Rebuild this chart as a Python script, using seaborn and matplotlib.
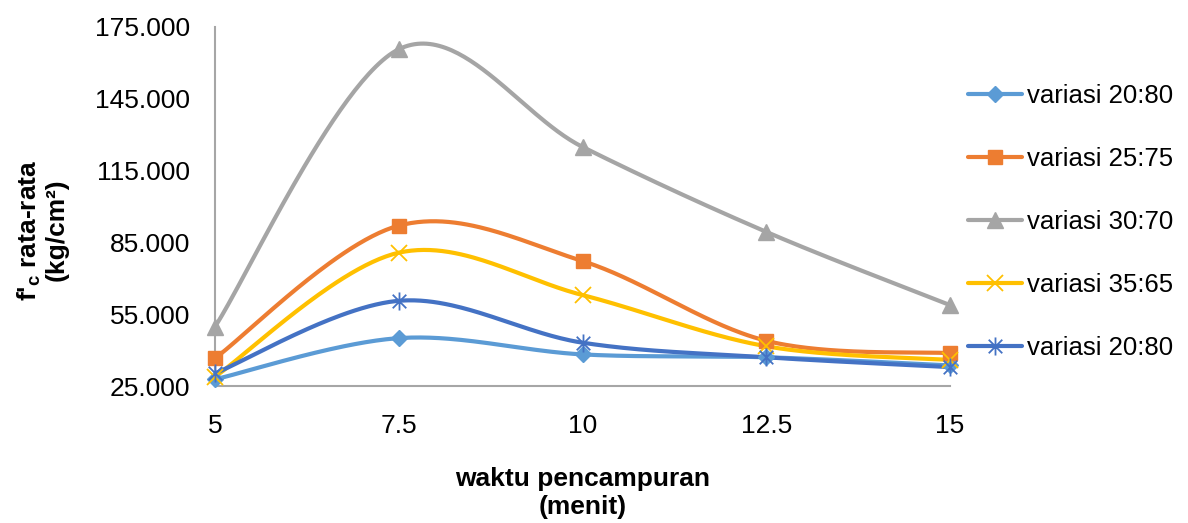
import matplotlib
matplotlib.use("Agg")
import matplotlib.pyplot as plt
import numpy as np
import seaborn as sns
from matplotlib.lines import Line2D
from matplotlib.path import Path

# data
waktu = [5, 7.5, 10, 12.5, 15]
waktu_labels = ["5", "7.5", "10", "12.5", "15"]
y_ticks = [25, 55, 85, 115, 145, 175]
y_tick_labels = ["25.000", "55.000", "85.000", "115.000", "145.000", "175.000"]

seri_names = ["variasi 20:80", "variasi 25:75", "variasi 30:70", "variasi 35:65", "variasi 20:80"]
v_20_80_a = [27.8, 45.0, 38.2, 37.0, 33.6]
v_25_75 = [36.6, 92.0, 77.2, 43.9, 38.7]
v_30_70 = [49.8, 165.7, 124.9, 89.4, 58.8]
v_35_65 = [28.9, 80.7, 63.0, 41.6, 35.9]
v_20_80_b = [30.3, 60.6, 43.1, 37.0, 32.9]
seri_values = [v_20_80_a, v_25_75, v_30_70, v_35_65, v_20_80_b]

colors = ["#5B9BD5", "#ED7D31", "#A5A5A5", "#FFC000", "#4472C4"]

# excel-like "star" marker: an x plus a vertical bar
star = Path(
    [(0, -1), (0, 1), (-0.75, -0.75), (0.75, 0.75), (-0.75, 0.75), (0.75, -0.75)],
    [Path.MOVETO, Path.LINETO, Path.MOVETO, Path.LINETO, Path.MOVETO, Path.LINETO],
)
marker_styles = [
    dict(marker="D", ms=8, mfc=colors[0], mec=colors[0], mew=1),
    dict(marker="s", ms=10, mfc=colors[1], mec=colors[1], mew=1),
    dict(marker="^", ms=11, mfc=colors[2], mec=colors[2], mew=1),
    dict(marker="x", ms=11, mfc="none", mec=colors[3], mew=1.3),
    dict(marker=star, ms=13, mfc="none", mec=colors[4], mew=1.3),
]


def smooth(xs, ys, n=60):
    # catmull-rom curve through the points, the way Excel smooths lines
    p = np.column_stack([xs, ys]).astype(float)
    ext = np.vstack([p[0], p, p[-1]])
    out = []
    t = np.linspace(0, 1, n)[:, None]
    for i in range(len(p) - 1):
        p0, p1, p2, p3 = ext[i], ext[i + 1], ext[i + 2], ext[i + 3]
        m1 = (p2 - p0) / 2
        m2 = (p3 - p1) / 2
        h00 = 2 * t**3 - 3 * t**2 + 1
        h10 = t**3 - 2 * t**2 + t
        h01 = -2 * t**3 + 3 * t**2
        h11 = t**3 - t**2
        out.append(h00 * p1 + h10 * m1 + h01 * p2 + h11 * m2)
    c = np.vstack(out)
    return c[:, 0], c[:, 1]


sns.set_style("white")
plt.rcParams["font.family"] = ["Liberation Sans", "DejaVu Sans"]
plt.rcParams["text.color"] = "black"
plt.rcParams["xtick.color"] = "black"
plt.rcParams["ytick.color"] = "black"
plt.rcParams["mathtext.fontset"] = "custom"
plt.rcParams["mathtext.rm"] = "Liberation Sans"
plt.rcParams["mathtext.bf"] = "Liberation Sans:bold"

fig = plt.figure(figsize=(11.88, 5.23), dpi=100)
ax = fig.add_axes([215 / 1188, 137 / 523, 735 / 1188, 359 / 523])

handles = []
for vals, col, ms in zip(seri_values, colors, marker_styles):
    sx, sy = smooth(waktu, vals)
    sns.lineplot(x=sx, y=sy, sort=False, estimator=None, color=col, lw=3, ax=ax, legend=False)
    ax.plot(waktu, vals, ls="none", clip_on=False, zorder=5, **ms)
    handles.append(Line2D([0], [0], color=col, lw=3, **ms))

ax.set_xlim(5, 15)
ax.set_ylim(25, 175)
ax.set_xticks(waktu)
ax.set_xticklabels(waktu_labels, fontsize=19)
ax.set_yticks(y_ticks)
ax.set_yticklabels(y_tick_labels, fontsize=19)
ax.tick_params(axis="x", length=0, pad=20, labelcolor="black")
ax.tick_params(axis="y", length=0, pad=18, labelcolor="black")
ax.set_xlabel("")
ax.set_ylabel("")

for side in ["top", "right"]:
    ax.spines[side].set_visible(False)
for side in ["left", "bottom"]:
    ax.spines[side].set_color("#A6A6A6")
    ax.spines[side].set_linewidth(1.5)

fig.text(583 / 1188, 1 - 493 / 523, "waktu pencampuran\n(menit)", ha="center", va="center",
         fontsize=19, fontweight="bold", linespacing=1.25, color="black")
fig.text(42 / 1188, 1 - 230 / 523, "f'$_\\mathbf{c}$ rata-rata\n(kg/cm²)", ha="center", va="center",
         rotation=90, fontsize=19, fontweight="bold", linespacing=1.1, multialignment="center",
         color="black")

fig.legend(handles, seri_names, loc="upper left", bbox_to_anchor=(968 / 1188, 1 - 84 / 523),
           frameon=False, fontsize=18.5, handlelength=2.1, handletextpad=0.2,
           labelspacing=1.52, borderpad=0, borderaxespad=0, labelcolor="black")

fig.savefig("out.png", dpi=100)
